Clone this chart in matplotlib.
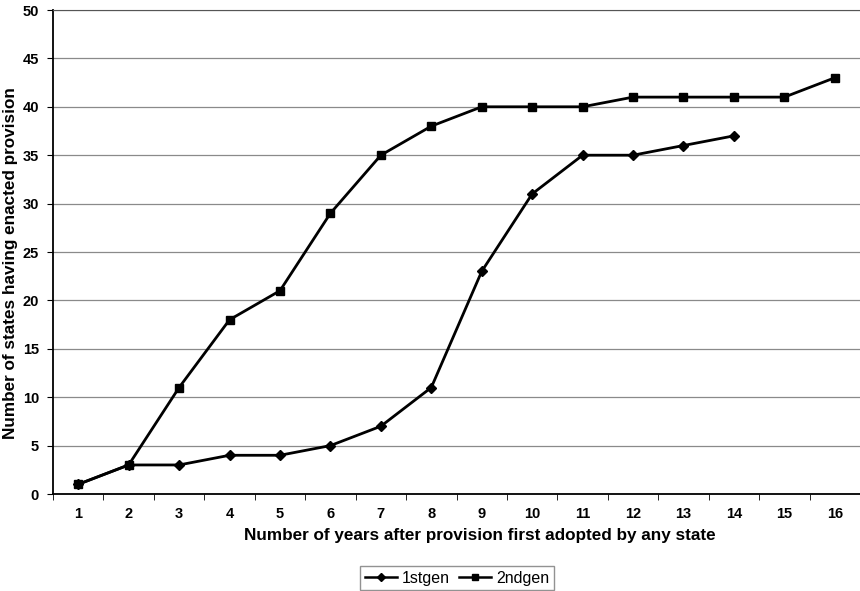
import matplotlib.pyplot as plt
import numpy as np
from matplotlib.lines import Line2D

plt.rcParams['font.family'] = ['Liberation Sans', 'DejaVu Sans']

# datos
years = [1, 2, 3, 4, 5, 6, 7, 8, 9, 10, 11, 12, 13, 14, 15, 16]
gen1 = [1, 3, 3, 4, 4, 5, 7, 11, 23, 31, 35, 35, 36, 37]
gen2 = [1, 3, 11, 18, 21, 29, 35, 38, 40, 40, 40, 41, 41, 41, 41, 43]
yticks = [0, 5, 10, 15, 20, 25, 30, 35, 40, 45, 50]

fig = plt.figure(figsize=(8.6, 5.91), dpi=100)
ax = fig.add_axes([53/860, 97/591, 807/860, 484/591])

ax.plot(years[:len(gen1)], gen1, color='black', linewidth=2.0,
        marker='D', markersize=5.5, zorder=3, label='1stgen')
ax.plot(years, gen2, color='black', linewidth=2.0,
        marker='s', markersize=6, zorder=3, label='2ndgen')

ax.set_xlim(0.5, 16.5)
ax.set_ylim(0, 50)
ax.set_yticks(yticks)
ax.set_xticks(years)
ax.set_xticks(np.arange(0.5, 17, 1), minor=True)
ax.tick_params(axis='x', which='major', length=0, pad=9)
ax.tick_params(axis='x', which='minor', length=4, direction='out')
ax.tick_params(axis='y', length=4, direction='out', pad=6)
for lab in ax.get_xticklabels() + ax.get_yticklabels():
    lab.set_fontsize(10.5)
    lab.set_fontweight('bold')

ax.grid(axis='y', color='#8a8a8a', linewidth=0.9)
ax.set_axisbelow(True)
ax.spines['right'].set_visible(False)
ax.spines['top'].set_color('#555555')
ax.spines['left'].set_linewidth(1.3)
ax.spines['bottom'].set_linewidth(1.3)

ax.set_xlabel('Number of years after provision first adopted by any state',
              fontsize=12.3, fontweight='bold')
ax.xaxis.set_label_coords((480 - 53)/807, -(528 - 494)/484)
ax.set_ylabel('Number of states having enacted provision',
              fontsize=12.3, fontweight='bold')
ax.yaxis.set_label_coords(-35/807, (494 - 263)/484)

handles = [Line2D([], [], color='black', marker='D', markersize=4.5, linewidth=1.8),
           Line2D([], [], color='black', marker='s', markersize=5, linewidth=1.8)]
fig.legend(handles, ['1stgen', '2ndgen'], loc='center', bbox_to_anchor=(457/860, 1 - 578/591),
           ncol=2, frameon=True, fancybox=False, edgecolor='#777777', fontsize=11.5,
           handlelength=2.0, handletextpad=0.3, columnspacing=0.6, borderpad=0.3)

fig.savefig('out.png', dpi=100)
